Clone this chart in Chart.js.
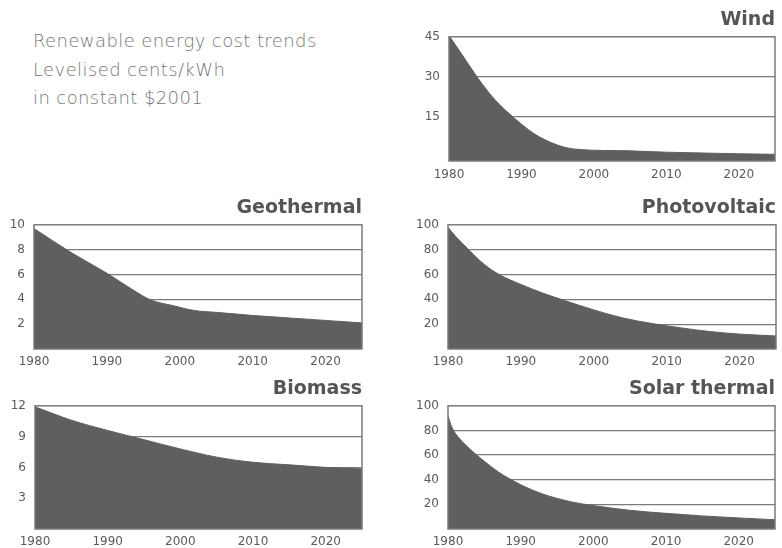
<!DOCTYPE html>
<html>
<head>
<meta charset="utf-8">
<title>Renewable energy cost trends</title>
<script src="https://cdn.jsdelivr.net/npm/chart.js@4.4.1/dist/chart.umd.min.js"></script>
<style>
    body {
        margin: 0;
        width: 782px;
        height: 548px;
        overflow: hidden;
        position: relative;
        background: #fff;
    }
    .intro {
        position: absolute;
        left: 33px;
        top: 27px;
        font-family: "DejaVu Sans", sans-serif;
        font-size: 18px;
        line-height: 28.5px;
        font-weight: 200;
        letter-spacing: 0.4px;
        color: #767676;
        white-space: nowrap;
    }
    canvas { position: absolute; }
</style>
</head>
<body>
<div class="intro">Renewable energy cost trends<br>Levelised cents/kWh<br>in constant $2001</div>
<canvas id="windChart" width="377" height="185" style="left:405px;top:0px"></canvas>
<canvas id="geoChart" width="370" height="181" style="left:0px;top:188px"></canvas>
<canvas id="pvChart" width="377" height="181" style="left:405px;top:188px"></canvas>
<canvas id="bioChart" width="370" height="179" style="left:0px;top:369px"></canvas>
<canvas id="solarChart" width="377" height="179" style="left:405px;top:369px"></canvas>
<script>
// Shared x axis
const yearTicks = [1980, 1990, 2000, 2010, 2020];

// Wind
const windYears = [1980, 1982, 1984, 1986, 1988, 1990, 1992, 1994, 1996, 1998, 2005, 2010, 2015, 2020, 2025];
const windCost  = [45.5, 37.5, 29.5, 22.5, 17, 12.3, 8.3, 5.5, 3.6, 2.8, 2.3, 1.8, 1.5, 1.2, 1.0];
const windLabels = [45, 30, 15];
const windGrid = [30, 15];

// Geothermal
const geoYears = [1980, 1985, 1990, 1994, 1996, 1999, 2002, 2005, 2010, 2015, 2020, 2025];
const geoCost  = [9.7, 7.8, 6.1, 4.6, 3.95, 3.5, 3.1, 2.95, 2.7, 2.5, 2.3, 2.1];
const geoLabels = [10, 8, 6, 4, 2];
const geoGrid = [8, 6, 4];

// Photovoltaic
const pvYears = [1980, 1981, 1983, 1985, 1987, 1990, 1993, 1996, 2000, 2004, 2008, 2012, 2016, 2020, 2025];
const pvCost  = [98, 91, 79, 68, 60, 52, 45, 39, 31.5, 25, 20.5, 17, 14, 12, 10.5];
const pvLabels = [100, 80, 60, 40, 20];
const pvGrid = [80, 60, 40, 20];

// Biomass
const bioYears = [1980, 1985, 1990, 1995, 2000, 2005, 2010, 2015, 2020, 2025];
const bioCost  = [11.9, 10.6, 9.6, 8.7, 7.8, 7.0, 6.5, 6.25, 6.0, 5.85];
const bioLabels = [12, 9, 6, 3];
const bioGrid = [9, 6];

// Solar thermal
const solarYears = [1980, 1980.5, 1981.5, 1983, 1985, 1987, 1990, 1993, 1997, 2000, 2005, 2010, 2015, 2020, 2025];
const solarCost  = [92, 83, 74, 65, 55, 46, 36, 28.5, 22, 19, 15.2, 12.7, 10.6, 9, 7.5];
const solarLabels = [100, 80, 60, 40, 20];
const solarGrid = [80, 60, 40, 20];

const FILL = '#5f5f5f';
const LINE = '#7a7a7a';
const TEXT = '#5a5a5a';

Chart.defaults.font.family = '"DejaVu Sans", sans-serif';

// frame around the plot area, drawn over the filled area
const framePlugin = {
    id: 'frame',
    afterDatasetsDraw(chart) {
        const { ctx, chartArea: a } = chart;
        ctx.save();
        ctx.strokeStyle = LINE;
        ctx.lineWidth = 1.5;
        ctx.strokeRect(a.left, a.top, a.right - a.left, a.bottom - a.top);
        ctx.restore();
    }
};

function makeChart(id, opts) {
    const points = opts.years.map((year, i) => ({ x: year, y: opts.values[i] }));

    return new Chart(document.getElementById(id), {
        type: 'line',
        data: {
            datasets: [{
                label: opts.title,
                data: points,
                backgroundColor: FILL,
                borderColor: FILL,
                borderWidth: 1,
                fill: 'start',
                pointRadius: 0,
                cubicInterpolationMode: 'monotone'
            }]
        },
        options: {
            responsive: false,
            animation: false,
            layout: { padding: { left: 0, right: opts.rightPad, top: 0, bottom: 0 } },
            plugins: {
                legend: { display: false },
                tooltip: { enabled: false },
                title: {
                    display: true,
                    text: opts.title,
                    align: 'end',
                    color: '#555',
                    font: { size: 19, weight: 'bold' },
                    padding: { top: 9, bottom: 5 }
                }
            },
            scales: {
                x: {
                    type: 'linear',
                    min: 1980,
                    max: 2025,
                    afterBuildTicks: scale => { scale.ticks = yearTicks.map(v => ({ value: v })); },
                    afterFit: scale => { scale.height = opts.xHeight; },
                    grid: { display: false, drawTicks: false },
                    border: { display: false },
                    ticks: {
                        color: TEXT,
                        font: { size: 12 },
                        padding: opts.xPad,
                        maxRotation: 0,
                        autoSkip: false,
                        callback: value => String(value)
                    }
                },
                y: {
                    min: opts.min,
                    max: opts.max,
                    afterBuildTicks: scale => { scale.ticks = opts.labels.map(v => ({ value: v })); },
                    afterFit: scale => { scale.width = opts.yWidth; },
                    grid: {
                        drawTicks: false,
                        lineWidth: 1.2,
                        color: ctx => opts.grid.includes(ctx.tick && ctx.tick.value) ? LINE : 'rgba(0,0,0,0)'
                    },
                    border: { display: false },
                    ticks: {
                        color: TEXT,
                        font: { size: 12 },
                        padding: 9,
                        autoSkip: false
                    }
                }
            }
        },
        plugins: [framePlugin]
    });
}

document.addEventListener('DOMContentLoaded', () => {
    makeChart('windChart', {
        title: 'Wind', years: windYears, values: windCost, labels: windLabels, grid: windGrid,
        min: -1.5, max: 45, yWidth: 44, rightPad: 7, xHeight: 24, xPad: 7
    });
    makeChart('geoChart', {
        title: 'Geothermal', years: geoYears, values: geoCost, labels: geoLabels, grid: geoGrid,
        min: 0, max: 10, yWidth: 34, rightPad: 8, xHeight: 20, xPad: 6
    });
    makeChart('pvChart', {
        title: 'Photovoltaic', years: pvYears, values: pvCost, labels: pvLabels, grid: pvGrid,
        min: 0, max: 100, yWidth: 43, rightPad: 6, xHeight: 20, xPad: 6
    });
    makeChart('bioChart', {
        title: 'Biomass', years: bioYears, values: bioCost, labels: bioLabels, grid: bioGrid,
        min: 0, max: 12, yWidth: 35, rightPad: 8, xHeight: 19, xPad: 6
    });
    makeChart('solarChart', {
        title: 'Solar thermal', years: solarYears, values: solarCost, labels: solarLabels, grid: solarGrid,
        min: 0, max: 100, yWidth: 43, rightPad: 7, xHeight: 19, xPad: 6
    });
});
</script>
</body>
</html>
